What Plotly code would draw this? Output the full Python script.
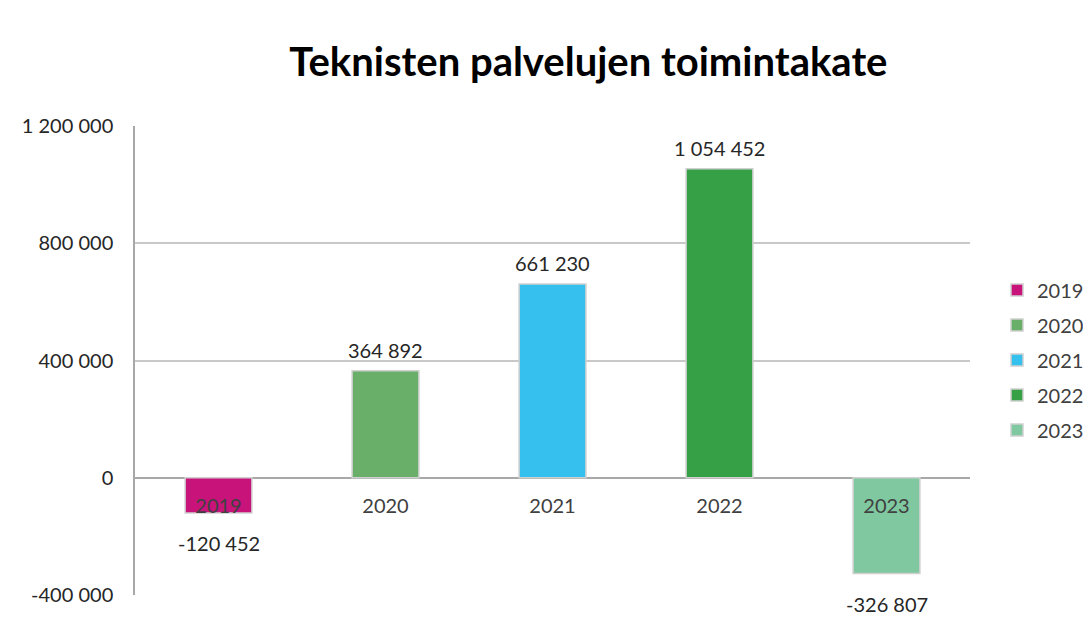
import plotly.graph_objects as go

years = ["2019", "2020", "2021", "2022", "2023"]
values = [-120452, 364892, 661230, 1054452, -326807]
colors = ["#C8137A", "#69AF69", "#35C0EE", "#36A047", "#7FC8A0"]
tick_values = [-400000, 0, 400000, 800000, 1200000]
title_text = "Teknisten palvelujen toimintakate"

def fmt(v):
    return f"{v:,}".replace(",", " ")

FONT = "Lato"
fig = go.Figure()
for y, v, c in zip(years, values, colors):
    fig.add_trace(go.Bar(
        x=[y], y=[v], name=y, width=0.4, legendgroup=y,
        marker=dict(color=c, line=dict(color="#d0d0d0", width=1.5)),
        hoverinfo="skip",
    ))

annotations = []
for i, v in enumerate(values):
    annotations.append(dict(
        x=i, y=v, xref="x", yref="y", text=fmt(v), showarrow=False,
        yshift=21 if v > 0 else -30, yanchor="middle",
        font=dict(family=FONT, size=20, color="#262626"),
    ))

fig.update_layout(
    width=1091, height=624,
    paper_bgcolor="white", plot_bgcolor="white",
    margin=dict(l=127, r=129, t=118, b=37),
    barmode="overlay",
    title=dict(text=f"<b>{title_text}</b>", x=0.532, xanchor="center",
               y=0.913, yanchor="middle", yref="container",
               font=dict(family=FONT, size=40, color="black")),
    legend=dict(xref="container", yref="container", x=0.9065, xanchor="left",
                y=0.436, yanchor="middle",
                tracegroupgap=6, font=dict(family=FONT, size=20, color="#404040"),
                itemwidth=30),
    annotations=annotations,
    showlegend=True,
)
fig.update_xaxes(
    type="category", categoryorder="array", categoryarray=years,
    range=[-0.5, 4.5], anchor="free", position=0.25, showline=False,
    showgrid=False, ticks="", tickfont=dict(family=FONT, size=20, color="#404040"),
    automargin=False, ticklabelstandoff=14,
)
fig.update_yaxes(
    range=[-400000, 1200000], tickvals=tick_values,
    ticktext=[fmt(v) for v in tick_values],
    showgrid=True, gridcolor="#c8c8c8", gridwidth=1.5,
    zeroline=True, zerolinecolor="#a8a8a8", zerolinewidth=1.5,
    showline=True, linecolor="#a8a8a8", linewidth=1.5,
    ticks="", ticklabelstandoff=16, automargin=False,
    tickfont=dict(family=FONT, size=20, color="#262626"),
)
fig.write_html("out.html")
